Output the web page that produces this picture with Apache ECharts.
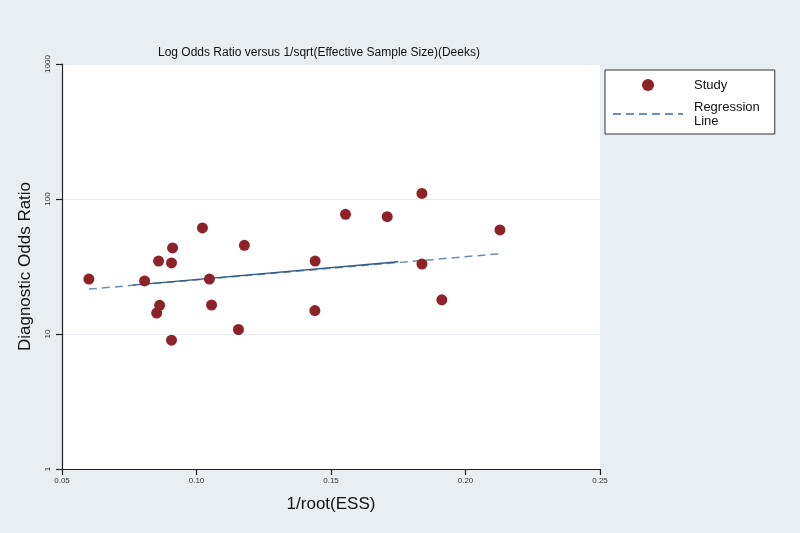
<!DOCTYPE html>
<html><head><meta charset="utf-8">
<script src="https://cdn.jsdelivr.net/npm/echarts@6/dist/echarts.min.js"></script>
<style>html,body{margin:0;padding:0;background:#e8eef2;}#c{width:800px;height:533px;}</style>
</head><body><div id="c"></div>
<script>
// Study points: x = 1/root(ESS), y = diagnostic odds ratio
var studyX = [0.0600, 0.0807, 0.0859, 0.0863, 0.0852, 0.0911, 0.0907, 0.0907, 0.1022, 0.1048, 0.1056, 0.1178, 0.1156, 0.1441, 0.1440, 0.1554, 0.1709, 0.1838, 0.1838, 0.1912, 0.2128];
var studyY = [25.5, 24.7, 34.7, 16.3, 14.3, 43.4, 33.6, 9.0, 61, 25.5, 16.4, 45.4, 10.8, 34.7, 14.9, 77, 74, 110, 33, 17.9, 59];
// Regression line endpoints
var regX = [0.0600, 0.2128];
var regY = [21.5, 39.3];
// Solid middle segment of the regression line
var solidX = [0.0763, 0.1750];
var solidY = [23.0, 34.3];
var xTicks = [0.05, 0.10, 0.15, 0.20, 0.25];
var yTicks = [1, 10, 100, 1000];

var FONT = 'Liberation Sans, Arial, sans-serif';
var chart = echarts.init(document.getElementById('c'), null, {renderer: 'canvas'});
chart.setOption({
  backgroundColor: '#e8eef2',
  animation: false,
  title: {
    text: 'Log Odds Ratio versus 1/sqrt(Effective Sample Size)(Deeks)',
    left: 153, top: 42,
    textStyle: {fontFamily: FONT, fontSize: 12, fontWeight: 'normal', color: '#111'}
  },
  legend: {
    orient: 'vertical',
    left: 605, top: 70,
    padding: [8, 15, 6, 7],
    itemGap: 8,
    itemWidth: 70, itemHeight: 12,
    backgroundColor: '#fff',
    borderColor: '#333', borderWidth: 1,
    textStyle: {fontFamily: FONT, fontSize: 13, color: '#111', lineHeight: 14, padding: [0, 0, 0, 6]},
    formatter: function (n) { return n === 'Regression Line' ? 'Regression\nLine' : n; },
    data: [
      {name: 'Study'},
      {name: 'Regression Line', itemStyle: {opacity: 0}}
    ]
  },
  grid: {left: 62, right: 200, top: 64, bottom: 64, show: true, backgroundColor: '#fff', borderWidth: 0},
  xAxis: {
    type: 'value', min: xTicks[0], max: xTicks[xTicks.length - 1], interval: 0.05,
    name: '1/root(ESS)', nameLocation: 'middle', nameGap: 27,
    nameTextStyle: {fontFamily: FONT, fontSize: 17, color: '#111'},
    axisLine: {show: true, onZero: false, lineStyle: {color: '#222', width: 1.2}},
    axisTick: {show: true, length: 6, lineStyle: {color: '#222', width: 1.2}},
    axisLabel: {fontFamily: FONT, fontSize: 8, color: '#333', margin: 8,
      formatter: function (v) { return v.toFixed(2); }},
    splitLine: {show: false}
  },
  yAxis: {
    type: 'log', logBase: 10, min: yTicks[0], max: yTicks[yTicks.length - 1],
    name: 'Diagnostic Odds Ratio', nameLocation: 'middle', nameGap: 28,
    nameTextStyle: {fontFamily: FONT, fontSize: 17, color: '#111'},
    axisLine: {show: true, onZero: false, lineStyle: {color: '#222', width: 1.2}},
    axisTick: {show: true, length: 6, lineStyle: {color: '#222', width: 1.2}},
    axisLabel: {fontFamily: FONT, fontSize: 8, color: '#333', rotate: 90, margin: 10,
      formatter: function (v) { return String(Math.round(v)); }},
    splitLine: {show: true, lineStyle: {color: '#e6edf2', width: 1}}
  },
  series: [
    {
      name: 'Study', type: 'scatter', symbol: 'circle', symbolSize: 11,
      itemStyle: {color: '#8e2229', opacity: 1},
      data: studyX.map(function (x, i) { return [x, studyY[i]]; }),
      z: 5
    },
    {
      name: 'Regression Line', type: 'line', symbol: 'none',
      lineStyle: {color: '#6f8fae', width: 1.5, type: [8, 5]},
      itemStyle: {color: '#8aa3bd'},
      data: regX.map(function (x, i) { return [x, regY[i]]; }),
      z: 3
    },
    {
      name: 'fit', type: 'line', symbol: 'none',
      lineStyle: {color: '#2f5d86', width: 1.3, type: 'solid'},
      data: solidX.map(function (x, i) { return [x, solidY[i]]; }),
      z: 4
    }
  ]
});
</script></body></html>
